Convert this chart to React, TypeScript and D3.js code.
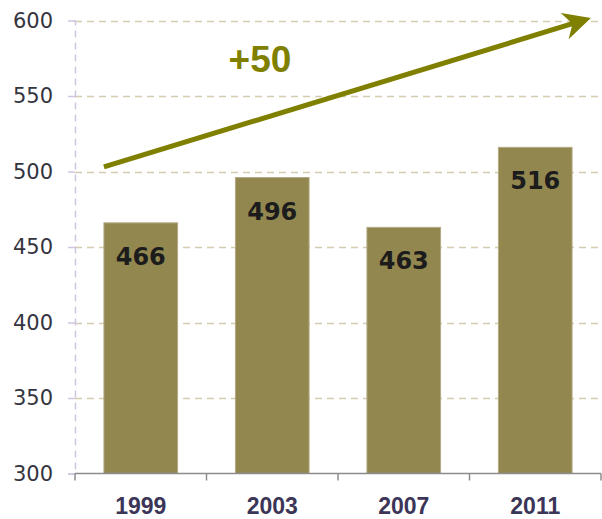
import React, { useRef, useEffect } from 'react';
import * as d3 from 'd3';

const years = ['1999', '2003', '2007', '2011'];
const scores = [466, 496, 463, 516];
const yTicks = [300, 350, 400, 450, 500, 550, 600];
const trendLabel = '+50';
const trendFrom = 503;
const trendTo = 602;

const App = () => {
    const chart = useRef<SVGSVGElement>(null);

    useEffect(() => {
        const width = 602;
        const height = 519;
        const margin = { top: 20.5, right: 1, bottom: 45, left: 75 };

        const svg = d3.select(chart.current);
        svg.selectAll('*').remove();

        const x = d3.scaleBand()
            .domain(years)
            .range([margin.left, width - margin.right])
            .paddingInner(0.44)
            .paddingOuter(0.22);

        const y = d3.scaleLinear()
            .domain([300, 600])
            .range([height - margin.bottom - 0.5, margin.top]);

        // gridlines
        svg.append('g')
            .selectAll('line')
            .data(yTicks.filter(d => d > 300))
            .enter()
            .append('line')
            .attr('x1', margin.left)
            .attr('x2', width)
            .attr('y1', d => Math.round(y(d)) + 0.5)
            .attr('y2', d => Math.round(y(d)) + 0.5)
            .attr('stroke', '#d3ccb1')
            .attr('stroke-width', 1.5)
            .attr('stroke-dasharray', '7,5');

        // y axis, dashed lavender
        const yAxis = svg.append('g')
            .attr('transform', `translate(${margin.left},0)`)
            .call(d3.axisLeft(y).tickValues(yTicks).tickSize(7).tickPadding(15));
        yAxis.select('.domain')
            .attr('stroke', '#cfc6e0')
            .attr('stroke-width', 1.5)
            .attr('stroke-dasharray', '7,5');
        yAxis.selectAll('.tick line').attr('stroke', '#cfc6e0').attr('stroke-width', 1.5);
        yAxis.selectAll('.tick text')
            .style('fill', '#34343f')
            .style('font-family', '"DejaVu Sans", Verdana, sans-serif')
            .style('font-size', '21px');

        // bars
        svg.selectAll('.bar')
            .data(years)
            .enter()
            .append('rect')
            .attr('x', d => x(d)!)
            .attr('y', (d, i) => y(scores[i]))
            .attr('width', x.bandwidth())
            .attr('height', (d, i) => y(300) - y(scores[i]))
            .attr('fill', '#938750')
            .attr('stroke', '#b3aa85')
            .attr('stroke-width', 1);

        svg.selectAll('.val')
            .data(years)
            .enter()
            .append('text')
            .attr('x', d => x(d)! + x.bandwidth() / 2)
            .attr('y', (d, i) => y(scores[i]) + 42)
            .attr('text-anchor', 'middle')
            .style('font-family', '"DejaVu Sans", Tahoma, sans-serif')
            .style('font-weight', 'bold')
            .style('font-size', '24px')
            .style('fill', '#1c1c1c')
            .text((d, i) => scores[i]);

        // x axis with ticks between categories
        const xAxis = svg.append('g')
            .attr('transform', `translate(0,${y(300)})`);
        xAxis.append('line')
            .attr('x1', margin.left)
            .attr('x2', width - margin.right)
            .attr('stroke', '#8c8c8c')
            .attr('stroke-width', 1.5);
        const edges = d3.range(years.length + 1).map(i => margin.left + i * x.step() * (1 - 0) + (i === 0 ? 0 : 0));
        const span = (width - margin.right - margin.left) / years.length;
        xAxis.selectAll('.tk')
            .data(edges.map((d, i) => margin.left + i * span))
            .enter()
            .append('line')
            .attr('x1', d => d)
            .attr('x2', d => d)
            .attr('y1', 0)
            .attr('y2', 7)
            .attr('stroke', '#8c8c8c')
            .attr('stroke-width', 1.5);
        xAxis.selectAll('.lbl')
            .data(years)
            .enter()
            .append('text')
            .attr('x', d => x(d)! + x.bandwidth() / 2)
            .attr('y', 40)
            .attr('text-anchor', 'middle')
            .style('font-family', '"Liberation Sans", Arial, sans-serif')
            .style('font-weight', 'bold')
            .style('font-size', '23px')
            .style('fill', '#3b3558')
            .text(d => d);

        // trend arrow
        svg.append('defs')
            .append('marker')
            .attr('id', 'arrow')
            .attr('viewBox', '0 0 10 10')
            .attr('refX', 7)
            .attr('refY', 5)
            .attr('markerWidth', 5.5)
            .attr('markerHeight', 5.5)
            .attr('orient', 'auto')
            .append('path')
            .attr('d', 'M0,0 L10,5 L0,10 L3,5 Z')
            .attr('fill', '#7f7f00');

        svg.append('line')
            .attr('x1', x(years[0])!)
            .attr('y1', y(trendFrom))
            .attr('x2', width - margin.right - 18)
            .attr('y2', y(trendTo) + 3)
            .attr('stroke', '#7f7f00')
            .attr('stroke-width', 5)
            .attr('marker-end', 'url(#arrow)');

        svg.append('text')
            .attr('x', 260)
            .attr('y', 72)
            .attr('text-anchor', 'middle')
            .style('font-family', '"Liberation Sans", Arial, sans-serif')
            .style('font-weight', 'bold')
            .style('font-size', '37px')
            .style('fill', '#7f7f00')
            .text(trendLabel);
    }, []);

    return (
        <svg ref={chart} width={602} height={519} style={{ position: 'absolute', left: 0, top: 0 }}></svg>
    );
};

export default App;
